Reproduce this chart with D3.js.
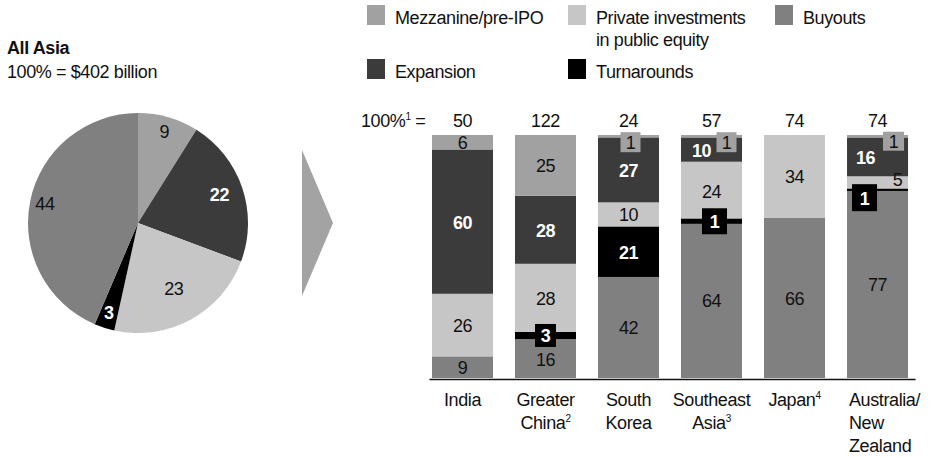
<!DOCTYPE html>
<html>
<head>
<meta charset="utf-8">
<script src="https://cdn.jsdelivr.net/npm/d3@7"></script>
<style>
  html, body { margin: 0; padding: 0; background: #fff; }
  svg { display: block; font-family: "Liberation Sans", Arial, sans-serif; letter-spacing: -0.4px; }
</style>
</head>
<body>
<svg id="chart" width="934" height="457"></svg>
<script>
// ---------------- DATA ----------------
const pieKeys = ["Mezzanine/pre-IPO", "Expansion", "Private investments in public equity", "Turnarounds", "Buyouts"];
const pieValues = [9, 22, 23, 3, 44];

const categories = ["India", "Greater China", "South Korea", "Southeast Asia", "Japan", "Australia/New Zealand"];
const totals = [50, 122, 24, 57, 74, 74];
const buyouts     = [9, 16, 42, 64, 66, 77];
const turnarounds = [0, 3, 21, 1, 0, 1];
const pipe        = [26, 28, 10, 24, 34, 5];
const expansion   = [60, 28, 27, 10, 0, 16];
const mezzanine   = [6, 25, 1, 1, 0, 1];

const seriesKeys = ["Buyouts", "Turnarounds", "PIPE", "Expansion", "Mezzanine"];
const seriesValues = [buyouts, turnarounds, pipe, expansion, mezzanine];

// category labels: lines + superscript
const categoryLabels = [
  [["India", ""]],
  [["Greater", ""], ["China", "2"]],
  [["South", ""], ["Korea", ""]],
  [["Southeast", ""], ["Asia", "3"]],
  [["Japan", "4"]],
  [["Australia/", ""], ["New", ""], ["Zealand", ""]]
];

const legendItems = [
  { key: "Mezzanine", lines: ["Mezzanine/pre-IPO"] },
  { key: "PIPE", lines: ["Private investments", "in public equity"] },
  { key: "Buyouts", lines: ["Buyouts"] },
  { key: "Expansion", lines: ["Expansion"] },
  { key: "Turnarounds", lines: ["Turnarounds"] }
];

// ---------------- STYLE ----------------
const colors = {
  Mezzanine: "#a1a1a1",
  PIPE: "#c6c6c6",
  Buyouts: "#808080",
  Expansion: "#3b3b3b",
  Turnarounds: "#000000"
};
const pieColorKeys = ["Mezzanine", "Expansion", "PIPE", "Turnarounds", "Buyouts"];
const pieLabelRadius = [95, 86, 75, 95, 95];
const whiteText = { Expansion: true, Turnarounds: true };

// callout overrides: "catIndex|key" -> style
const callouts = {
  "1|Turnarounds": { box: true, dx: 0, dy: 0, w: 21, h: 23, line: 7 },
  "2|Mezzanine":   { box: true, dx: 2, dy: 6, w: 20, h: 20 },
  "3|Mezzanine":   { box: true, dx: 15, dy: 6, w: 20, h: 20 },
  "3|Expansion":   { dx: -10 },
  "3|Turnarounds": { box: true, dx: 3, dy: 0, w: 25, h: 26, line: 5 },
  "5|Mezzanine":   { box: true, dx: 16, dy: 5, w: 21, h: 19 },
  "5|Expansion":   { dx: -12 },
  "5|PIPE":        { dx: 20, dy: -3 },
  "5|Turnarounds": { box: true, dx: -13, dy: 8, w: 25, h: 27, line: 1.5 }
};

const svg = d3.select("#chart");
const FS = 18;

// ---------------- TITLE ----------------
svg.append("text").attr("x", 7).attr("y", 54).attr("font-size", FS).attr("font-weight", "bold")
  .attr("fill", "#111").text("All Asia");
svg.append("text").attr("x", 7).attr("y", 78).attr("font-size", FS)
  .attr("fill", "#111").text("100% = $402 billion");

// ---------------- PIE ----------------
const pieG = svg.append("g").attr("transform", "translate(138,223)");
const pie = d3.pie().sort(null).value(d => d)(pieValues);
const arc = d3.arc().innerRadius(0).outerRadius(110);
pieG.selectAll("path").data(pie).join("path")
  .attr("d", arc)
  .attr("fill", (d, i) => colors[pieColorKeys[i]]);
pieG.selectAll("text").data(pie).join("text")
  .attr("transform", (d, i) => {
    const a = (d.startAngle + d.endAngle) / 2;
    const r = pieLabelRadius[i];
    return `translate(${Math.sin(a) * r},${-Math.cos(a) * r})`;
  })
  .attr("text-anchor", "middle").attr("dominant-baseline", "central")
  .attr("font-size", FS)
  .attr("font-weight", (d, i) => whiteText[pieColorKeys[i]] ? "bold" : "normal")
  .attr("fill", (d, i) => whiteText[pieColorKeys[i]] ? "#fff" : "#111")
  .text(d => d.data);

// ---------------- ARROW ----------------
const arrowPts = [[302, 150], [333, 223], [302, 296]];
svg.append("path").attr("d", d3.line()(arrowPts) + "Z").attr("fill", "#a3a3a3");

// ---------------- LEGEND ----------------
const legendPos = [[367, 5], [568, 5], [775, 5], [367, 59], [568, 59]];
legendItems.forEach((it, i) => {
  const [lx, ly] = legendPos[i];
  svg.append("rect").attr("x", lx).attr("y", ly).attr("width", 18).attr("height", 20)
    .attr("fill", colors[it.key]);
  it.lines.forEach((ln, j) => {
    svg.append("text").attr("x", lx + 28).attr("y", ly + 19 + j * 22)
      .attr("font-size", FS).attr("fill", "#111").text(ln);
  });
});

// ---------------- BARS ----------------
const table = categories.map((c, i) => {
  const o = { cat: c, idx: i };
  seriesKeys.forEach((k, j) => o[k] = seriesValues[j][i]);
  return o;
});
const stacked = d3.stack().keys(seriesKeys).offset(d3.stackOffsetExpand)(table);

const x = d3.scaleBand().domain(categories).range([429, 915])
  .paddingInner(0.265).paddingOuter(0.06).align(0.3);
const y = d3.scaleLinear().domain([0, 1]).range([378, 135]);

const barG = svg.append("g");
stacked.forEach(layer => {
  barG.append("g").selectAll("rect").data(layer).join("rect")
    .attr("x", d => x(d.data.cat))
    .attr("y", d => y(d[1]))
    .attr("width", x.bandwidth())
    .attr("height", d => Math.max(0, y(d[0]) - y(d[1])))
    .attr("fill", colors[layer.key]);
});

// callout lines
stacked.forEach(layer => {
  layer.forEach(d => {
    const c = callouts[d.data.idx + "|" + layer.key];
    if (c && c.line && d.data[layer.key] > 0) {
      const cy = (y(d[0]) + y(d[1])) / 2;
      barG.append("line")
        .attr("x1", x(d.data.cat)).attr("x2", x(d.data.cat) + x.bandwidth())
        .attr("y1", cy).attr("y2", cy)
        .attr("stroke", "#000").attr("stroke-width", c.line);
    }
  });
});

// segment labels
const labelG = svg.append("g");
stacked.forEach(layer => {
  layer.forEach(d => {
    const v = d.data[layer.key];
    if (!v) return;
    const c = callouts[d.data.idx + "|" + layer.key] || {};
    const cx = x(d.data.cat) + x.bandwidth() / 2 + (c.dx || 0);
    const cy = (y(d[0]) + y(d[1])) / 2 + (c.dy || 0);
    if (c.box) {
      labelG.append("rect")
        .attr("x", cx - c.w / 2).attr("y", cy - c.h / 2)
        .attr("width", c.w).attr("height", c.h)
        .attr("fill", colors[layer.key]);
    }
    labelG.append("text")
      .attr("x", cx).attr("y", cy + 1)
      .attr("text-anchor", "middle").attr("dominant-baseline", "central")
      .attr("font-size", FS)
      .attr("font-weight", whiteText[layer.key] ? "bold" : "normal")
      .attr("fill", whiteText[layer.key] ? "#fff" : "#111")
      .text(v);
  });
});

// totals
svg.append("text").attr("x", 361).attr("y", 127).attr("font-size", FS).attr("fill", "#111")
  .html('100%<tspan font-size="10" dy="-7">1</tspan><tspan dy="7"> =</tspan>');
svg.append("g").selectAll("text").data(categories).join("text")
  .attr("x", d => x(d) + x.bandwidth() / 2).attr("y", 127)
  .attr("text-anchor", "middle").attr("font-size", FS).attr("fill", "#111")
  .text((d, i) => totals[i]);

// axis
const axisG = svg.append("g").attr("transform", "translate(0,379)")
  .call(d3.axisBottom(x).tickSize(0).tickSizeOuter(0).tickFormat(""));
axisG.select(".domain").attr("stroke", "#111").attr("stroke-width", 1.5);
axisG.selectAll(".tick text").remove();

// category labels
categories.forEach((c, i) => {
  const isLeft = i === categories.length - 1;
  const tx = isLeft ? x(c) + 2 : x(c) + x.bandwidth() / 2;
  const t = svg.append("text").attr("font-size", FS).attr("fill", "#111")
    .attr("text-anchor", isLeft ? "start" : "middle");
  categoryLabels[i].forEach((ln, j) => {
    const line = t.append("tspan").attr("x", tx).attr("y", 406 + j * 23);
    line.append("tspan").text(ln[0]);
    if (ln[1]) line.append("tspan").attr("font-size", 10).attr("dy", -7).text(ln[1]);
  });
});
</script>
</body>
</html>
